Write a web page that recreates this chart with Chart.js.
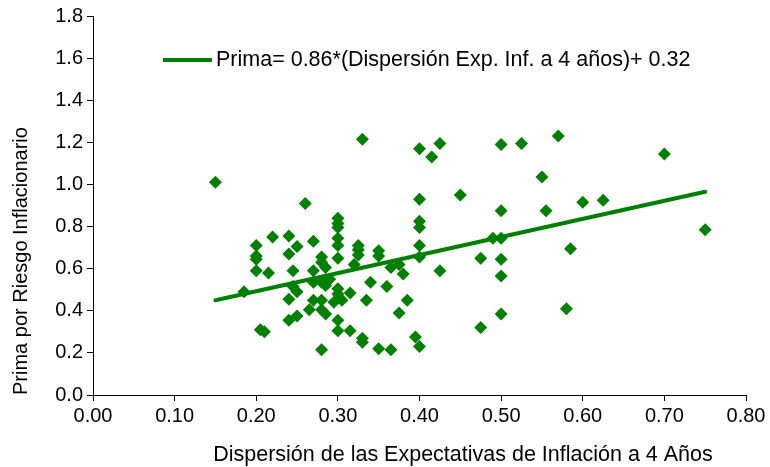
<!DOCTYPE html>
<html>
<head>
<meta charset="utf-8">
<script src="https://cdn.jsdelivr.net/npm/chart.js@4.4.1/dist/chart.umd.min.js"></script>
<style>
  html, body { margin: 0; padding: 0; background: #fff; }
  #wrap { width: 770px; height: 467px; }
</style>
</head>
<body>
<div id="wrap"><canvas id="chart"></canvas></div>
<script>
const dispersion = [
  0.15, 0.26, 0.22, 0.24, 0.20, 0.25, 0.27, 0.20, 0.24, 0.28,
  0.20, 0.20, 0.215, 0.245, 0.28, 0.27, 0.285, 0.185, 0.24, 0.25,
  0.245, 0.265, 0.28, 0.25, 0.24, 0.27, 0.28, 0.28, 0.27, 0.205,
  0.21, 0.28, 0.33, 0.40, 0.425, 0.415, 0.40, 0.45, 0.40, 0.40,
  0.40, 0.30, 0.30, 0.30, 0.30, 0.30, 0.325, 0.325, 0.325, 0.35,
  0.35, 0.30, 0.32, 0.365, 0.375, 0.38, 0.425, 0.40, 0.29, 0.285,
  0.30, 0.315, 0.30, 0.305, 0.295, 0.34, 0.36, 0.335, 0.385, 0.375,
  0.285, 0.30, 0.315, 0.30, 0.33, 0.33, 0.395, 0.40, 0.35, 0.365,
  0.50, 0.525, 0.57, 0.55, 0.50, 0.555, 0.60, 0.625, 0.49, 0.50,
  0.585, 0.475, 0.50, 0.50, 0.50, 0.475, 0.58, 0.70, 0.75,
];
const prima = [
  1.01, 0.91, 0.75, 0.755, 0.71, 0.705, 0.73, 0.66, 0.67, 0.655,
  0.645, 0.59, 0.58, 0.59, 0.63, 0.59, 0.605, 0.49, 0.455, 0.49,
  0.515, 0.405, 0.405, 0.375, 0.355, 0.45, 0.45, 0.535, 0.535, 0.31,
  0.30, 0.215, 1.215, 1.17, 1.195, 1.13, 0.93, 0.95, 0.825, 0.795,
  0.71, 0.84, 0.815, 0.795, 0.745, 0.71, 0.71, 0.69, 0.665, 0.685,
  0.66, 0.65, 0.62, 0.605, 0.62, 0.575, 0.59, 0.655, 0.55, 0.52,
  0.505, 0.485, 0.48, 0.45, 0.44, 0.535, 0.515, 0.45, 0.45, 0.39,
  0.385, 0.355, 0.305, 0.305, 0.27, 0.25, 0.275, 0.23, 0.22, 0.215,
  1.19, 1.195, 1.23, 1.035, 0.875, 0.875, 0.915, 0.925, 0.745, 0.745,
  0.695, 0.65, 0.645, 0.565, 0.385, 0.32, 0.41, 1.145, 0.785,
];

// Recta de tendencia (extremos).
const trendX = [0.15, 0.75];
const trendY = [0.45, 0.965];
const trendLabel = 'Prima= 0.86*(Dispersión Exp. Inf. a 4 años)+ 0.32';

// Ejes.
const xTicks = [0, 0.1, 0.2, 0.3, 0.4, 0.5, 0.6, 0.7, 0.8];
const yTicks = [0, 0.2, 0.4, 0.6, 0.8, 1.0, 1.2, 1.4, 1.6, 1.8];
const xTitle = 'Dispersión de las Expectativas de Inflación a 4 Años';
const yTitle = 'Prima por Riesgo Inflacionario';

const GREEN = '#008000';
const FONT = "'Liberation Sans', Arial, sans-serif";
const FS = 20;

// Leyenda dentro del área del gráfico y título del eje X desplazado,
// como en el original de Excel.
const extras = {
  id: 'extras',
  afterDraw(chart) {
    const ds = chart.data.datasets[1];
    const ctx = chart.ctx;
    const y = 60;
    ctx.save();
    ctx.strokeStyle = ds.borderColor;
    ctx.lineWidth = 4;
    ctx.beginPath();
    ctx.moveTo(163, y);
    ctx.lineTo(212, y);
    ctx.stroke();
    ctx.fillStyle = '#000';
    ctx.font = `21.5px ${FONT}`;
    ctx.textBaseline = 'middle';
    ctx.textAlign = 'left';
    ctx.fillText(ds.label, 216, y);
    ctx.textAlign = 'center';
    ctx.fillText(xTitle, 463, 455);
    ctx.restore();
  },
};

new Chart(document.getElementById('chart'), {
  type: 'scatter',
  data: {
    datasets: [
      {
        label: 'Observaciones',
        data: dispersion.map((x, i) => ({ x, y: prima[i] })),
        pointStyle: 'rectRot',
        pointRadius: 6.5,
        pointBackgroundColor: GREEN,
        pointBorderColor: GREEN,
        pointBorderWidth: 0,
        order: 2,
      },
      {
        type: 'line',
        label: trendLabel,
        data: trendX.map((x, i) => ({ x, y: trendY[i] })),
        borderColor: GREEN,
        borderWidth: 4,
        pointRadius: 0,
        borderCapStyle: 'round',
        fill: false,
        order: 1,
      },
    ],
  },
  options: {
    responsive: true,
    maintainAspectRatio: false,
    animation: false,
    layout: { padding: { top: 15, right: 24, left: 0, bottom: 0 } },
    plugins: { legend: { display: false }, tooltip: { enabled: false } },
    scales: {
      x: {
        type: 'linear',
        min: xTicks[0],
        max: xTicks[xTicks.length - 1],
        afterBuildTicks: (s) => { s.ticks = xTicks.map((v) => ({ value: v })); },
        afterFit: (s) => { s.height = 72; },
        ticks: {
          color: '#000',
          font: { family: FONT, size: FS },
          padding: 3,
          maxRotation: 0,
          callback: (v) => Number(v).toFixed(2),
        },
        grid: { drawOnChartArea: false, color: '#000', tickLength: 6 },
        border: { color: '#000', width: 1 },
      },
      y: {
        type: 'linear',
        min: yTicks[0],
        max: yTicks[yTicks.length - 1],
        afterBuildTicks: (s) => { s.ticks = yTicks.map((v) => ({ value: v })); },
        afterFit: (s) => { s.width = 93; },
        ticks: {
          color: '#000',
          font: { family: FONT, size: FS },
          padding: 4,
          callback: (v) => Number(v).toFixed(1),
        },
        grid: { drawOnChartArea: false, color: '#000', tickLength: 6 },
        border: { color: '#000', width: 1 },
        title: {
          display: true, text: yTitle, color: '#000', align: 'start',
          font: { family: FONT, size: FS }, padding: { top: 9, bottom: 0 },
        },
      },
    },
  },
  plugins: [extras],
});
</script>
</body>
</html>
